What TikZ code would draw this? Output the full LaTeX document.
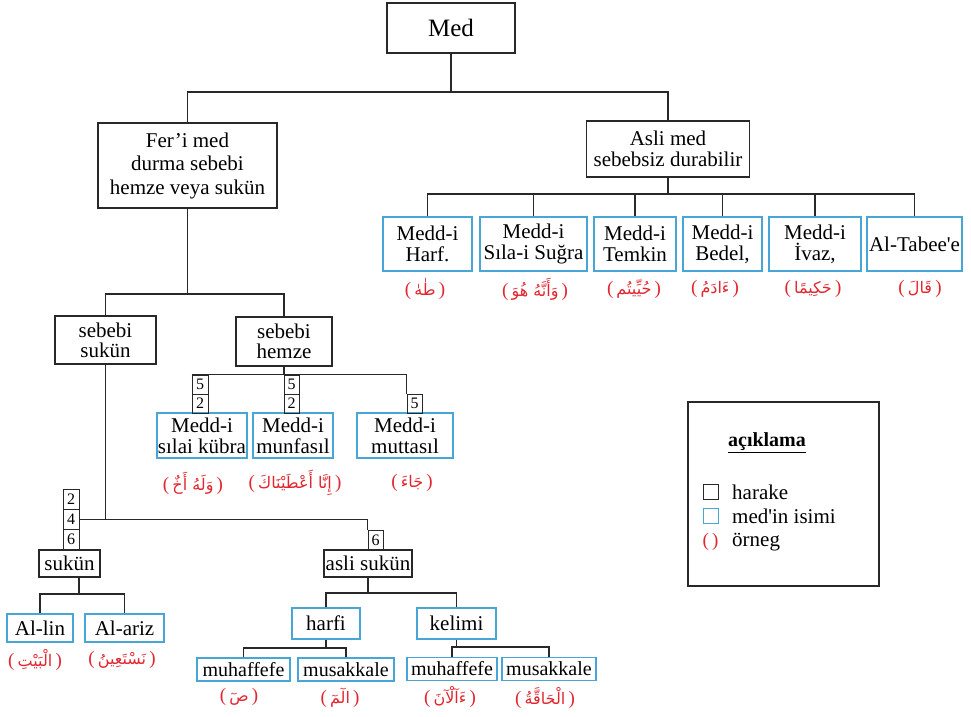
\documentclass[tikz,border=0pt]{standalone}
\usepackage{fontspec}
\setmainfont{Liberation Serif}
\newfontfamily\arabicfont[Script=Arabic]{DejaVu Sans}
\TeXXeTstate=1
\definecolor{linec}{RGB}{40,40,40}
\definecolor{bluec}{RGB}{72,166,214}
\definecolor{redc}{RGB}{226,38,48}
\newcommand\fsz[2]{\fontsize{#1}{#2}\selectfont}
\newcommand\arex[1]{{\color{redc}\fsz{19}{20}(\,{\arabicfont\fsz{16}{18}\beginR #1\endR}\,)}}
\begin{document}
\begin{tikzpicture}[x=1pt,y=-1pt,
  bx/.style={draw=linec,line width=1.3pt,inner sep=0pt,align=center,fill=white},
  blx/.style={bx,draw=bluec},
  nb/.style={draw=linec,line width=1pt,inner sep=0pt,minimum width=15pt,minimum height=19pt,font=\fsz{16}{16}},
  conn/.style={draw=linec,line width=1.3pt},
  ex/.style={inner sep=0pt}]
\useasboundingbox[fill=white] (0,0) rectangle (971,716);

% top level
\node[bx,minimum width=128,minimum height=50,font=\fsz{25}{27}] (med) at (451,28) {Med};
\node[bx,minimum width=179,minimum height=85,font=\fsz{21}{23.5}] (feri) at (187.5,165.5) {Fer’i med\\durma sebebi\\hemze veya sukün};
\node[bx,minimum width=163,minimum height=56,font=\fsz{21}{21}] (asli) at (668,149) {Asli med\\sebebsiz durabilir};
\coordinate (b0) at (451,92);
\draw[conn] (med.south) -- (b0);
\draw[conn] (feri.north) |- (b0) -| (asli.north);

% asli med children
\begin{scope}[every node/.append style={minimum height=54,font=\fsz{21}{21}}]
\node[blx,minimum width=89] (harf) at (427.5,244) {Medd-i\\Harf.};
\node[blx,minimum width=107] (sila) at (533.5,244) {Medd-i\\Sıla-i Suğra};
\node[blx,minimum width=82] (temkin) at (635,244) {Medd-i\\Temkin};
\node[blx,minimum width=79] (bedel) at (722.5,244) {Medd-i\\Bedel,};
\node[blx,minimum width=92] (ivaz) at (815,244) {Medd-i\\İvaz,};
\node[blx,minimum width=95] (tabee) at (914.5,244) {Al-Tabee\textquotesingle e};
\end{scope}
\coordinate (b1) at (668,194);
\draw[conn] (asli.south) -- (b1);
\draw[conn] (harf.north) |- (b1) -| (tabee.north);
\foreach \n in {sila,temkin,bedel,ivaz} \draw[conn] (\n.north) -- (\n.north |- b1);

\node[ex] (exharf) at (425,289) {\arex{طٰهٰ}};
\node[ex] (exsila) at (535,289) {\arex{وَأَنَّهُ هُوَ}};
\node[ex] (extemkin) at (634,289) {\arex{حُيِّيتُم}};
\node[ex] (exbedel) at (715,289) {\arex{ءَادَمُ}};
\node[ex] (exivaz) at (813,289) {\arex{حَكِيمًا}};
\node[ex] (extabee) at (920,289) {\arex{قَالَ}};

% fer'i med children
\node[bx,minimum width=101,minimum height=48,font=\fsz{21}{20}] (ssukun) at (105.5,340) {sebebi\\sukün};
\node[bx,minimum width=96,minimum height=49,font=\fsz{21}{20}] (shemze) at (284,341.5) {sebebi\\hemze};
\coordinate (b2) at (187.5,294);
\draw[conn] (feri.south) -- (b2);
\draw[conn] (ssukun.north) |- (b2) -| (shemze.north);

% sebebi hemze children
\begin{scope}[every node/.append style={minimum height=45,font=\fsz{21}{21}}]
\node[blx,minimum width=90] (kubra) at (202,435.5) {Medd-i\\sılai kübra};
\node[blx,minimum width=80] (munf) at (293,435.5) {Medd-i\\munfasıl};
\node[blx,minimum width=96] (mutt) at (405,435.5) {Medd-i\\muttasıl};
\end{scope}
\node[nb,minimum width=16pt] (k5) at (200,384.5) {5};
\node[nb,minimum width=16pt] (k2) at (200,403.5) {2};
\node[nb] (m5) at (291.5,384.5) {5};
\node[nb] (m2) at (291.5,403.5) {2};
\node[nb] (t5) at (414.5,403.5) {5};
\draw[conn] (shemze.south) -- (shemze.south |- k5.north);
\draw[conn] (k5.north west) -| (t5.north west);

\node[ex] (exkubra) at (193,483) {\arex{وَلَهُ أَخٌ}};
\node[ex] (exmunf) at (295,483) {\arex{إِنَّا أَعْطَيْنَاكَ}};
\node[ex] (exmutt) at (412,483) {\arex{جَاءَ}};

% sebebi sukun children
\node[nb,minimum width=16pt,minimum height=20pt] (n2) at (71,499.5) {2};
\node[nb,minimum width=16pt,minimum height=20pt] (n4) at (71,519.5) {4};
\node[nb,minimum width=16pt,minimum height=20pt] (n6) at (71,539.5) {6};
\node[bx,minimum width=61,minimum height=27,font=\fsz{21}{21}] (sukun) at (69.5,563.5) {sukün};
\node[nb,minimum width=15pt,minimum height=20pt] (a6) at (375.5,540) {6};
\node[bx,minimum width=88,minimum height=27,font=\fsz{21}{21}] (asukun) at (368,563.5) {asli sukün};
\draw[conn] (ssukun.south) |- (n4.east);
\draw[conn] (ssukun.south |- n4.east) -| (a6.north west);

% sukun children
\begin{scope}[every node/.append style={minimum height=28,font=\fsz{21}{21}}]
\node[blx,minimum width=66] (allin) at (40,628) {Al-lin};
\node[blx,minimum width=79] (alariz) at (124.5,628) {Al-ariz};
\end{scope}
\coordinate (b3) at (79,594);
\draw[conn] (sukun.south -| b3) -- (b3);
\draw[conn] (allin.north) |- (b3) -| (alariz.north);
\node[ex] (exallin) at (35,660) {\arex{الْبَيْتِ}};
\node[ex] (exalariz) at (122,660) {\arex{نَسْتَعِينُ}};

% asli sukun children
\begin{scope}[every node/.append style={minimum height=31,font=\fsz{21}{21}}]
\node[blx,minimum width=68] (harfi) at (326,623.5) {harfi};
\node[blx,minimum width=79] (kelimi) at (456.5,623.5) {kelimi};
\end{scope}
\coordinate (b4) at (368,593);
\draw[conn] (asukun.south) -- (b4);
\draw[conn] (harfi.north) |- (b4) -| (kelimi.north);

\begin{scope}[every node/.append style={minimum height=23,font=\fsz{20}{20}}]
\node[blx,minimum width=93] (muh1) at (243.5,669.5) {muhaffefe};
\node[blx,minimum width=96] (mus1) at (346,669.5) {musakkale};
\node[blx,minimum width=90] (muh2) at (452,669) {muhaffefe};
\node[blx,minimum width=94] (mus2) at (549,669) {musakkale};
\end{scope}
\coordinate (b5) at (326,648);
\draw[conn] (harfi.south) -- (b5);
\draw[conn] (muh1.north) |- (b5) -| (mus1.north);
\coordinate (b6) at (456.5,647);
\draw[conn] (kelimi.south) -- (b6);
\draw[conn] (muh2.north) |- (b6) -| (mus2.north);

\node[ex] (exmuh1) at (239,697) {\arex{صٓ}};
\node[ex] (exmus1) at (340,698) {\arex{الٓمٓ}};
\node[ex] (exmuh2) at (450,697) {\arex{ءَآلْآنَ}};
\node[ex] (exmus2) at (545,698) {\arex{الْحَاقَّةُ}};

% legend
\node[draw=linec,line width=1.3pt,minimum width=191,minimum height=184,inner sep=0pt] (leg) at (783.5,494) {};
\node[font=\bfseries\fsz{20}{20},inner sep=0pt] (legt) at (767,443) {\underline{açıklama}};
\node[draw=linec,line width=1pt,minimum width=15,minimum height=15,inner sep=0pt] (lsq1) at (710.5,491.5) {};
\node[draw=bluec,line width=1pt,minimum width=15,minimum height=15,inner sep=0pt] (lsq2) at (710.5,516) {};
\node[text=redc,font=\fsz{19}{19},inner sep=0pt] (lsq3) at (710.5,542) {(\,)};
\node[anchor=west,font=\fsz{21}{21},inner sep=0pt] (lt1) at (732,492) {harake};
\node[anchor=west,font=\fsz{21}{21},inner sep=0pt] (lt2) at (732,516) {med\textquotesingle in isimi};
\node[anchor=west,font=\fsz{21}{21},inner sep=0pt] (lt3) at (732,542) {örneg};
\end{tikzpicture}
\end{document}
